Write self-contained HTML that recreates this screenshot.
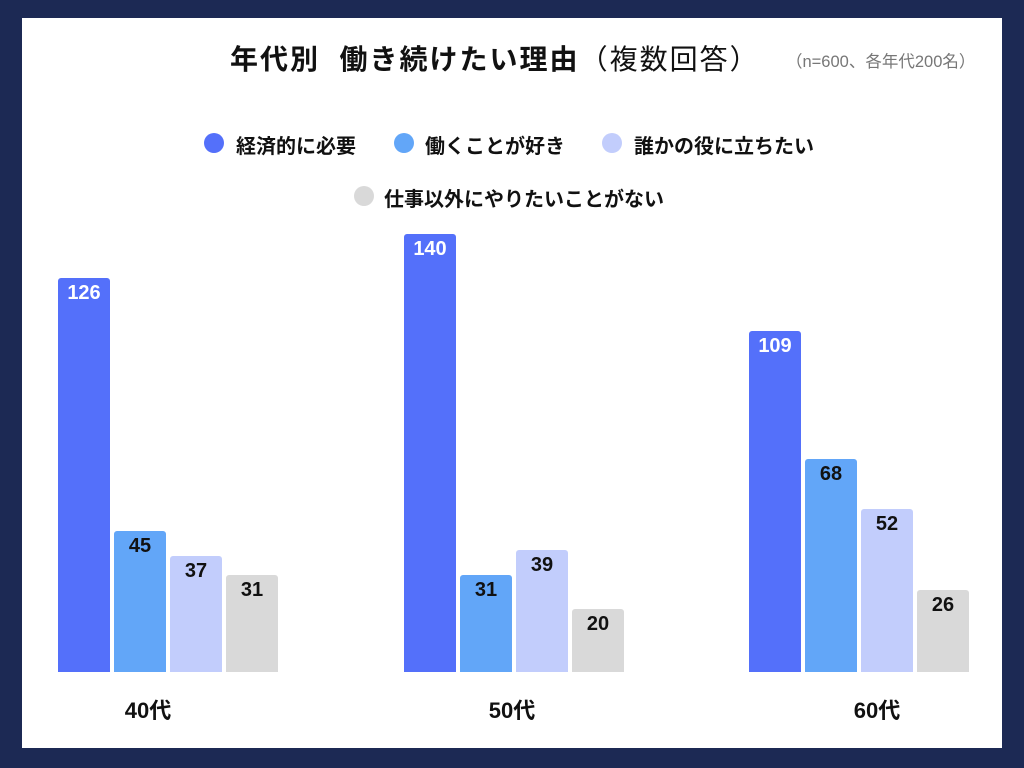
<!DOCTYPE html>
<html><head><meta charset="utf-8"><style>
*{margin:0;padding:0;box-sizing:border-box}
body{width:1024px;height:768px;background:#1c2954;position:relative;overflow:hidden;font-family:"Liberation Sans","Noto Sans CJK JP",sans-serif}
.panel{position:absolute;left:22px;top:18px;width:980px;height:730px;background:#fff}
.t{position:absolute;white-space:nowrap}
.bar{position:absolute;width:52px;border-radius:3px 3px 0 0}
.bar span{position:absolute;top:4px;left:0;width:52px;text-align:center;font-weight:bold;font-size:20px;color:#111}
.dot{position:absolute;width:20px;height:20px;border-radius:50%}
.lg{position:absolute;font-size:20px;font-weight:bold;color:#111;white-space:nowrap}
.cat{position:absolute;font-size:22px;font-weight:bold;color:#111;width:120px;text-align:center}
</style></head><body>
<div class="panel"></div>
<div class="t" style="left:230px;top:38px;font-size:28px;letter-spacing:2px;font-weight:bold;color:#111">年代別&nbsp; 働き続けたい理由<span style="font-weight:normal">（複数回答）</span></div>
<div class="t" style="left:786px;top:48px;font-size:16.5px;color:#777">（n=600、各年代200名）</div>

<div class="dot" style="left:204px;top:133px;background:#5470fa"></div><div class="lg" style="left:236px;top:130px">経済的に必要</div>
<div class="dot" style="left:394px;top:133px;background:#62a6f8"></div><div class="lg" style="left:425px;top:130px">働くことが好き</div>
<div class="dot" style="left:602px;top:133px;background:#c2cdfc"></div><div class="lg" style="left:634px;top:130px">誰かの役に立ちたい</div>
<div class="dot" style="left:354px;top:186px;background:#d9d9d9"></div><div class="lg" style="left:384px;top:183px">仕事以外にやりたいことがない</div>

<div class="bar" style="left:58px;top:278px;height:394px;background:#5470fa"><span style="color:#fff">126</span></div>
<div class="bar" style="left:114px;top:531px;height:141px;background:#62a6f8"><span>45</span></div>
<div class="bar" style="left:170px;top:556px;height:116px;background:#c2cdfc"><span>37</span></div>
<div class="bar" style="left:226px;top:575px;height:97px;background:#d9d9d9"><span>31</span></div>

<div class="bar" style="left:404px;top:234px;height:438px;background:#5470fa"><span style="color:#fff">140</span></div>
<div class="bar" style="left:460px;top:575px;height:97px;background:#62a6f8"><span>31</span></div>
<div class="bar" style="left:516px;top:550px;height:122px;background:#c2cdfc"><span>39</span></div>
<div class="bar" style="left:572px;top:609px;height:63px;background:#d9d9d9"><span>20</span></div>

<div class="bar" style="left:749px;top:331px;height:341px;background:#5470fa"><span style="color:#fff">109</span></div>
<div class="bar" style="left:805px;top:459px;height:213px;background:#62a6f8"><span>68</span></div>
<div class="bar" style="left:861px;top:509px;height:163px;background:#c2cdfc"><span>52</span></div>
<div class="bar" style="left:917px;top:590px;height:82px;background:#d9d9d9"><span>26</span></div>

<div class="cat" style="left:88px;top:693px">40代</div>
<div class="cat" style="left:452px;top:693px">50代</div>
<div class="cat" style="left:817px;top:693px">60代</div>
</body></html>
